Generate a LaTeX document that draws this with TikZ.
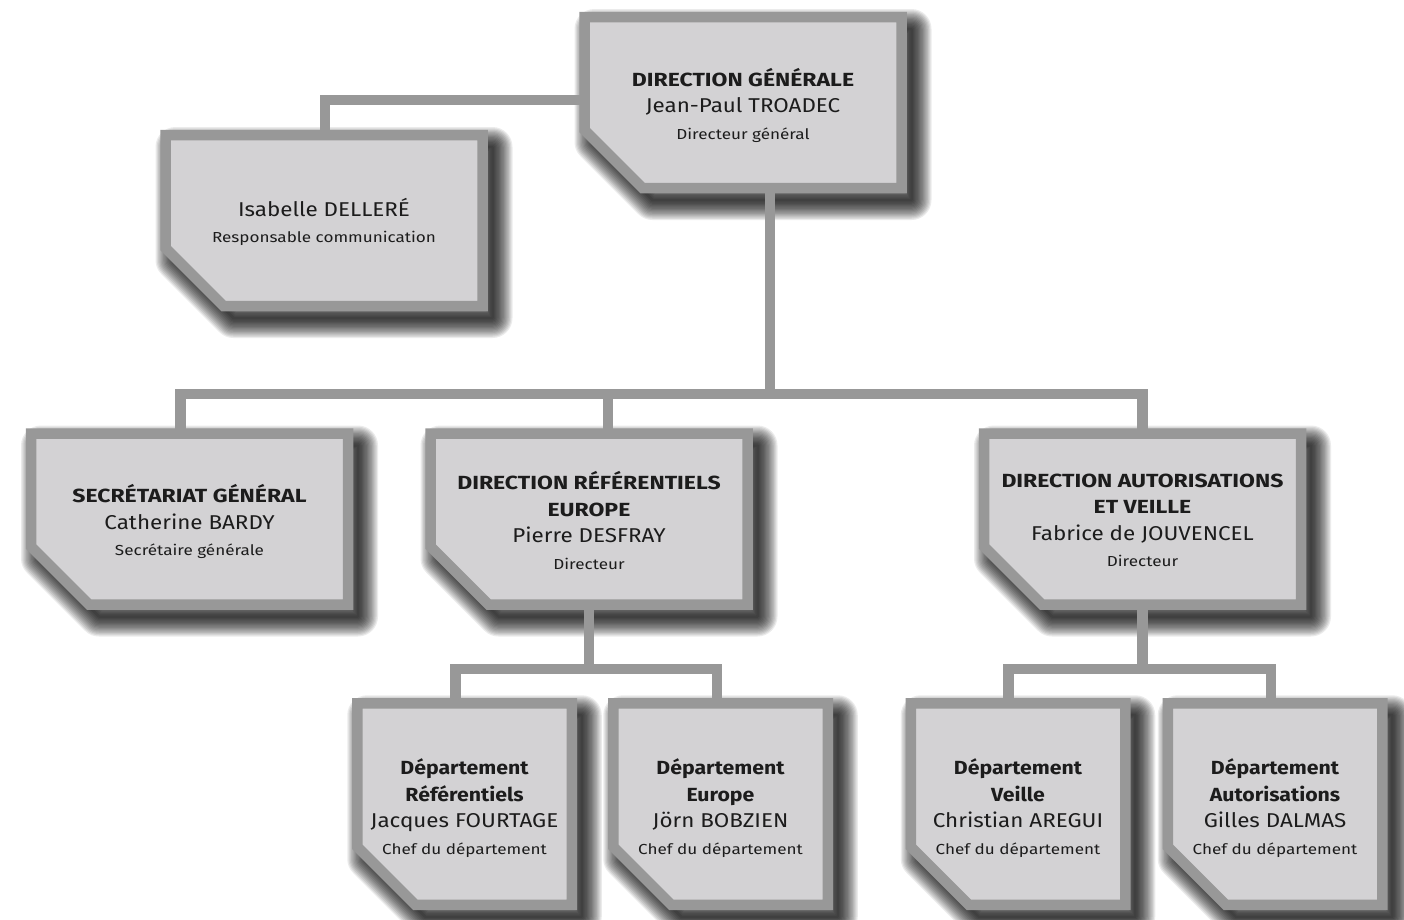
\documentclass[tikz,border=0pt]{standalone}
\usepackage{fontspec}
\setmainfont{Fira Sans}
\newfontfamily\capsFam[FakeStretch=1.21]{Fira Sans}
\newfontfamily\lowFam[FakeStretch=1.12]{Fira Sans}
\newfontfamily\nameFam[FakeStretch=1.12]{Fira Sans}
\newfontfamily\roleFam[FakeStretch=1.18]{Fira Sans}
\definecolor{bordc}{HTML}{989898}
\definecolor{fillc}{HTML}{D3D2D4}
\definecolor{txtc}{HTML}{1C1C1C}
\newcommand\oTitle{\capsFam\fontsize{19}{26.5}\selectfont\bfseries}
\newcommand\oDept{\lowFam\fontsize{19}{26.5}\selectfont\bfseries}
\newcommand\oName{\nameFam\fontsize{20}{26.5}\selectfont\mdseries}
\newcommand\oRole{\roleFam\fontsize{14.5}{26.5}\selectfont\mdseries}
\newcommand\chamf{58pt}
\newcommand\boxpath[1]{(#1.north west) -- (#1.north east) -- (#1.south east) -- ([xshift=\chamf]#1.south west) -- ([yshift=\chamf]#1.south west) -- cycle}
\pgfdeclarelayer{bg}
\pgfdeclarelayer{shd}
\pgfdeclarelayer{conn}
\pgfdeclarelayer{boxl}
\pgfsetlayers{bg,shd,conn,boxl,main}
\tikzset{
  unit/.style={inner sep=0pt, outer sep=0pt},
  bigbox/.style={unit, minimum width=317pt, minimum height=171pt},
  smallbox/.style={unit, minimum width=214.5pt, minimum height=201.5pt},
  txt/.style={inner sep=0pt, align=center, text=txtc, font=\oName, yshift=-2.5pt},
  conn/.style={draw=bordc, line width=10.5pt, line join=miter, line cap=butt},
  boxdraw/.style={draw=bordc, fill=fillc, line width=10.5pt, line join=miter},
  shadowstroke/.style={draw=black, draw opacity=0.08, line join=round,
    transform canvas={xshift=10pt, yshift=-12pt}}
}
\begin{document}
\begin{tikzpicture}[x=1pt, y=-1pt]
\begin{pgfonlayer}{bg}
\fill[white] (0,0) rectangle (1404,919);
\end{pgfonlayer}
\useasboundingbox (0,0) rectangle (1404,919);
% box nodes
\node[bigbox] (dg) at (743,102.5) {};
\node[bigbox] (com) at (324,220.5) {};
\node[bigbox] (sec) at (189.5,519) {};
\node[bigbox] (dref) at (589,519) {};
\node[bigbox] (aut) at (1142.5,519) {};
\node[smallbox] (r1) at (464.5,804) {};
\node[smallbox] (r2) at (720.5,804) {};
\node[smallbox] (r3) at (1018,804) {};
\node[smallbox] (r4) at (1275,804) {};
% texts
\node[txt] (dg-t) at (dg.center) {{\oTitle DIRECTION GÉNÉRALE}\\ Jean-Paul TROADEC\\ {\oRole Directeur général}};
\node[txt, yshift=1pt] (com-t) at (com.center) {Isabelle DELLERÉ\\ {\oRole Responsable communication}};
\node[txt] (sec-t) at (sec.center) {{\oTitle SECRÉTARIAT GÉNÉRAL}\\ Catherine BARDY\\ {\oRole Secrétaire générale}};
\node[txt, yshift=1pt] (dref-t) at (dref.center) {{\oTitle DIRECTION RÉFÉRENTIELS}\\ {\oTitle EUROPE}\\ Pierre DESFRAY\\ {\oRole Directeur}};
\node[txt, yshift=1pt] (aut-t) at (aut.center) {{\oTitle DIRECTION AUTORISATIONS}\\ {\oTitle ET VEILLE}\\ Fabrice de JOUVENCEL\\ {\oRole Directeur}};
\node[txt, yshift=-1.5pt] (r1-t) at (r1.center) {{\oDept Département}\\ {\oDept Référentiels}\\ Jacques FOURTAGE\\ {\oRole Chef du département}};
\node[txt, yshift=-1.5pt] (r2-t) at (r2.center) {{\oDept Département}\\ {\oDept Europe}\\ Jörn BOBZIEN\\ {\oRole Chef du département}};
\node[txt, yshift=-1.5pt] (r3-t) at (r3.center) {{\oDept Département}\\ {\oDept Veille}\\ Christian AREGUI\\ {\oRole Chef du département}};
\node[txt, yshift=-1.5pt] (r4-t) at (r4.center) {{\oDept Département}\\ {\oDept Autorisations}\\ Gilles DALMAS\\ {\oRole Chef du département}};
% coordinates for connectors
\coordinate (tc) at (325,100);
\coordinate (busL) at (180.5,394);
\coordinate (busM) at (608,394);
\coordinate (busR) at (1142.5,394);
\coordinate (busT) at (770,394);
\coordinate (srL) at (455.5,669);
\coordinate (srR) at (717,669);
\coordinate (saL) at (1008.5,669);
\coordinate (saR) at (1271,669);
% shadows
\begin{pgfonlayer}{shd}
\foreach \n in {dg,com,sec,dref,aut,r1,r2,r3,r4}{
  \foreach \k in {1,...,16}{
    \pgfmathsetmacro\lw{2.5*\k}
    \path[shadowstroke, line width=\lw pt] \boxpath{\n};
  }
}
\end{pgfonlayer}
% connectors
\begin{pgfonlayer}{conn}
\draw[conn] (dg.west |- tc) -- (tc) -- (com.north -| tc);
\draw[conn] (dg.south -| busT) -- (busT);
\draw[conn] (sec.north -| busL) -- (busL) -- (busR) -- (aut.north -| busR);
\draw[conn] (busM) -- (dref.north -| busM);
\draw[conn] (dref.south) -- (dref.south |- srL);
\draw[conn] (r1.north -| srL) -- (srL) -- (srR) -- (r2.north -| srR);
\draw[conn] (aut.south) -- (aut.south |- saL);
\draw[conn] (r3.north -| saL) -- (saL) -- (saR) -- (r4.north -| saR);
\end{pgfonlayer}
% boxes
\begin{pgfonlayer}{boxl}
\foreach \n in {dg,com,sec,dref,aut,r1,r2,r3,r4}{
  \path[boxdraw] \boxpath{\n};
}
\end{pgfonlayer}
\end{tikzpicture}
\end{document}
